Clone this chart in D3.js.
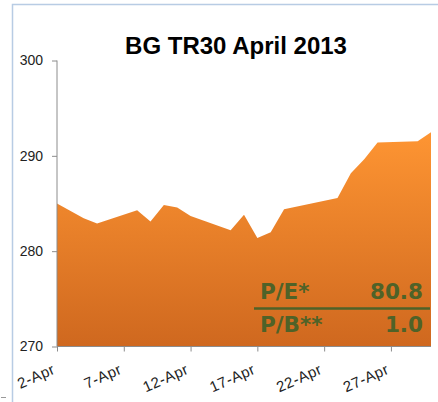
<!DOCTYPE html>
<html><head><meta charset="utf-8">
<script src="https://cdn.jsdelivr.net/npm/d3@7"></script>
<style>body{margin:0;background:#fff}svg{display:block}</style>
</head><body>
<script>
const dates = ["2013-04-02","2013-04-04","2013-04-05","2013-04-08","2013-04-09","2013-04-10","2013-04-11","2013-04-12","2013-04-15","2013-04-16","2013-04-17","2013-04-18","2013-04-19","2013-04-23","2013-04-24","2013-04-25","2013-04-26","2013-04-29","2013-04-30"];
const values = [285.0,283.45,282.9,284.3,283.1,284.85,284.57,283.7,282.2,283.83,281.38,281.98,284.39,285.58,288.17,289.64,291.39,291.53,292.48];
const yTicks = [270,280,290,300];
const xTickDates = ["2013-04-02","2013-04-07","2013-04-12","2013-04-17","2013-04-22","2013-04-27"];
const title = "BG TR30 April 2013";
const ratioLabels = ["P/E*","P/B**"];
const ratioValues = ["80.8","1.0"];

const W=438,H=402;
const svg=d3.select("body").append("svg").attr("width",W).attr("height",H);
const parse=d3.utcParse("%Y-%m-%d");
const data=dates.map((d,i)=>({d:parse(d),v:values[i]}));
const x=d3.scaleUtc().domain([parse("2013-04-02"),parse("2013-04-30")]).range([57,431]);
const y=d3.scaleLinear().domain([270,300]).range([346.5,60.5]);

// frame
svg.append("path").attr("d","M12.5,402 V4.5 H438").attr("fill","none").attr("stroke","#b8cce4").attr("stroke-width",1.5);
svg.append("line").attr("x1",1).attr("x2",6).attr("y1",397.5).attr("y2",397.5).attr("stroke","#999");

const defs=svg.append("defs");
const g=defs.append("linearGradient").attr("id","og").attr("gradientUnits","userSpaceOnUse")
 .attr("x1",0).attr("y1",y(293)).attr("x2",0).attr("y2",y(270));
g.append("stop").attr("offset",0).attr("stop-color","#ff9633");
g.append("stop").attr("offset",1).attr("stop-color","#cf681f");

svg.append("path").datum(data)
 .attr("d",d3.area().x(d=>x(d.d)).y0(y(270)).y1(d=>y(d.v)))
 .attr("fill","url(#og)");

const axFont="Liberation Sans, Arial, sans-serif";
// y axis
const ya=svg.append("g").attr("transform","translate(57,0)")
 .call(d3.axisLeft(y).tickValues(yTicks).tickSize(5).tickPadding(9).tickFormat(d3.format("d")));
ya.select(".domain").attr("stroke","#8c8c8c").attr("d","M0,60.5V346.5");
ya.selectAll(".tick line").attr("stroke","#8c8c8c");
ya.selectAll("text").attr("font-family",axFont).attr("font-size",14).attr("fill","#222");

// x axis
const xa=svg.append("g").attr("transform","translate(0,346.5)")
 .call(d3.axisBottom(x).tickValues(xTickDates.map(parse)).tickSize(5).tickFormat(d3.utcFormat("%-d-%b")));
xa.select(".domain").attr("stroke","#8c8c8c").attr("d","M57,0H431");
xa.selectAll(".tick line").attr("stroke","#8c8c8c");
xa.selectAll("text").attr("font-family",axFont).attr("font-size",15).attr("letter-spacing",0.5).attr("fill","#222")
 .attr("text-anchor","end").attr("dy",null).attr("y",0)
 .attr("transform","translate(-1.5,26.5) rotate(-24)");

// title
svg.append("text").attr("x",236).attr("y",54).attr("text-anchor","middle")
 .attr("font-family","Liberation Sans, Arial, sans-serif").attr("font-weight","bold").attr("font-size",24)
 .attr("fill","#000").text(title);

// ratios
const green="#4f6228";
const rFont="DejaVu Sans, Verdana, sans-serif";
const rows=[299,332];
ratioLabels.forEach((t,i)=>{
 svg.append("text").attr("x",260).attr("y",rows[i]).attr("font-family",rFont)
  .attr("font-weight","bold").attr("font-size",21.5).attr("fill",green).text(t);
 svg.append("text").attr("x",423).attr("y",rows[i]).attr("text-anchor","end").attr("font-family",rFont)
  .attr("font-weight","bold").attr("font-size",21.5).attr("fill",green).text(ratioValues[i]);
});
svg.append("line").attr("x1",254).attr("x2",430).attr("y1",308.5).attr("y2",308.5).attr("stroke",green).attr("stroke-width",2.5);
</script>
</body></html>
